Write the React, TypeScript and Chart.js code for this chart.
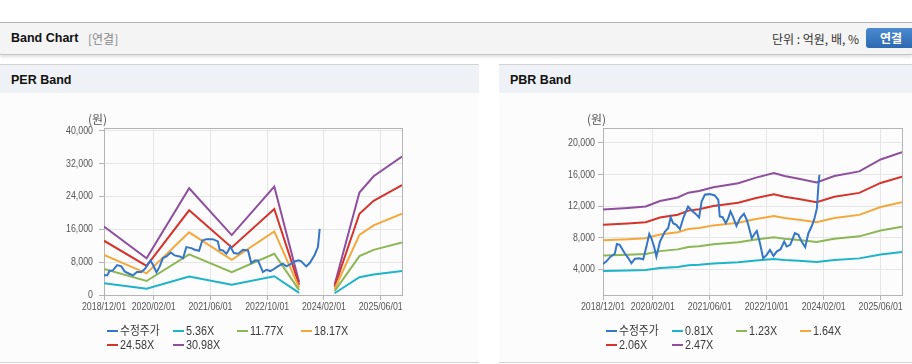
import React, { useEffect, useRef } from 'react';
import { Chart, registerables } from 'chart.js';

Chart.register(...registerables);

const TICK_FONT = "'Liberation Sans', 'Noto Sans CJK KR', sans-serif";
const UI_FONT = "'Liberation Sans', 'Noto Sans CJK KR', sans-serif";
const KR_FONT = "'Noto Sans CJK KR', sans-serif";

// x axis: months since 2018/12
const X_MAX = 84;
const X_TICK_POS = [0, 14, 30, 46, 62, 78];
const X_TICK_LABELS = ['2018/12/01', '2020/02/01', '2021/06/01', '2022/10/01', '2024/02/01', '2025/06/01'];

const COLORS = ['#3576C6', '#1DB3C9', '#8DB654', '#F4A83C', '#D5342C', '#8E4F9E'];

// ---------- PER band ----------
const PER_LABELS = ['수정주가', '5.36X', '11.77X', '18.17X', '24.58X', '30.98X'];
const PER_PRICE_X = [0, 0.9, 1.6, 2.5, 3.7, 4.9, 5.8, 7.1, 8.2, 9.3, 10.5, 11.5, 13.1, 13.8, 14.8, 15.7, 16.6, 17.6, 18.8, 19.9, 21.3, 22.3, 23.2, 24.6, 25.6, 26.8, 27.7, 28.9, 30.7, 32.1, 32.6, 33.5, 34.5, 34.9, 35.6, 36.6, 37.8, 39.2, 40.6, 41.5, 42.5, 43.4, 44.8, 45.8, 46.9, 47.6, 49.0, 50.4, 51.4, 52.3, 53.7, 54.9, 55.6, 57.0, 58.0, 59.4, 60.3, 60.8];
const PER_PRICE = [4780, 4780, 5910, 5990, 7290, 6960, 5750, 5180, 4780, 5590, 5590, 6320, 8420, 7370, 5510, 6960, 8990, 9390, 10360, 9640, 9390, 8990, 11660, 11420, 11010, 10770, 13280, 13600, 13600, 13040, 11010, 10850, 10040, 10610, 11820, 10200, 10040, 11010, 10850, 7770, 8420, 8420, 5590, 6150, 5830, 6150, 6960, 7610, 6960, 7370, 8180, 8420, 8180, 6960, 7770, 9800, 11660, 16100];
const PER_BAND_X = [0, 12, 24, 36, 48, 55, 60, 65, 72, 76, 84];
const PER_BAND_1 = [2881, 1549, 4497, 2525, 4567, 536, null, 429, 4315, 5001, 5832];
const PER_BAND_2 = [6326, 3402, 9875, 5544, 10028, 1177, null, 942, 9475, 10981, 12806];
const PER_BAND_3 = [9766, 5251, 15245, 8558, 15481, 1817, null, 1454, 14627, 16953, 19769];
const PER_BAND_4 = [13212, 7104, 20623, 11577, 20942, 2458, null, 1966, 19787, 22933, 26743];
const PER_BAND_5 = [16652, 8953, 25992, 14592, 26395, 3098, null, 2478, 24939, 28904, 33706];
const PER_Y_TICKS = [0, 8000, 16000, 24000, 32000, 40000];
const PER_Y_MIN = 0;
const PER_Y_MAX = 40650;

// ---------- PBR band ----------
const PBR_LABELS = ['수정주가', '0.81X', '1.23X', '1.64X', '2.06X', '2.47X'];
const PBR_PRICE_X = [0, 0.9, 2.1, 3.3, 3.9, 4.7, 6.1, 7.0, 8.0, 8.9, 10.1, 11.3, 12.2, 13.0, 13.6, 14.4, 15.0, 16.0, 17.4, 18.3, 19.0, 19.7, 20.6, 21.6, 22.7, 23.9, 24.9, 25.8, 27.0, 27.7, 28.6, 30.0, 31.4, 32.4, 32.8, 33.6, 34.5, 35.2, 35.8, 36.4, 37.5, 38.5, 39.6, 40.4, 40.8, 41.8, 42.7, 43.2, 44.1, 45.0, 46.0, 46.9, 47.9, 48.8, 49.9, 50.9, 51.6, 52.6, 53.9, 54.9, 55.8, 56.8, 57.7, 58.6, 59.3, 60.1, 60.5, 60.8];
const PBR_PRICE = [4670, 4970, 5600, 5940, 7200, 7090, 6030, 5480, 4760, 5310, 5390, 5270, 6870, 8480, 7930, 6790, 5600, 7500, 8780, 9200, 10600, 9840, 9630, 9080, 10680, 11950, 11450, 11110, 10560, 12590, 13440, 13520, 13350, 12800, 10680, 10600, 9840, 10480, 11320, 10770, 9500, 10480, 11030, 10260, 9630, 7930, 8570, 8860, 7300, 5390, 5820, 6450, 5690, 6240, 6540, 7510, 6880, 7090, 8570, 8360, 7510, 6790, 8570, 9420, 10260, 11740, 14490, 15980];
const PBR_BAND_X = [0, 7, 12, 16, 21, 24, 27, 31, 38, 43, 48, 51, 55, 60, 65, 72, 78, 84];
const PBR_BAND_1 = [3790, 3860, 3920, 4150, 4290, 4500, 4560, 4720, 4880, 5120, 5310, 5180, 5070, 4920, 5180, 5380, 5870, 6180];
const PBR_BAND_2 = [5760, 5850, 5950, 6300, 6520, 6830, 6920, 7170, 7420, 7770, 8070, 7870, 7700, 7470, 7870, 8170, 8920, 9380];
const PBR_BAND_3 = [7680, 7810, 7940, 8400, 8690, 9100, 9230, 9560, 9890, 10360, 10760, 10500, 10270, 9950, 10500, 10890, 11890, 12510];
const PBR_BAND_4 = [9640, 9810, 9970, 10550, 10920, 11430, 11600, 12010, 12420, 13020, 13510, 13180, 12900, 12500, 13180, 13680, 14940, 15720];
const PBR_BAND_5 = [11560, 11760, 11950, 12650, 13090, 13710, 13910, 14400, 14890, 15610, 16200, 15810, 15460, 14990, 15810, 16400, 17910, 18850];
const PBR_Y_TICKS = [4000, 8000, 12000, 16000, 20000];
const PBR_Y_MIN = 740;
const PBR_Y_MAX = 21900;

type Series = { xs: number[]; ys: (number | null)[] };

const framePlugin = {
  id: 'frame',
  beforeDatasetsDraw(chart: any) {
    const { ctx, chartArea } = chart;
    ctx.save();
    ctx.strokeStyle = '#b4b4b4';
    ctx.lineWidth = 1;
    ctx.strokeRect(Math.round(chartArea.left) + 0.5, Math.round(chartArea.top) + 0.5,
      Math.round(chartArea.right - chartArea.left), Math.round(chartArea.bottom - chartArea.top));
    ctx.restore();
  },
};

// Draws the axis tick labels in a condensed face (horizontally compressed text).
function makeLabelPlugin(yGap: number) {
  return {
    id: 'condensedLabels',
    afterDraw(chart: any) {
      const { ctx } = chart;
      const xs = chart.scales.x;
      const ys = chart.scales.y;
      const SX = 0.8;
      ctx.save();
      ctx.fillStyle = '#555';
      ctx.font = `11px ${TICK_FONT}`;
      ctx.textBaseline = 'middle';
      ctx.textAlign = 'center';
      xs.ticks.forEach((t: any, i: number) => {
        const px = xs.getPixelForValue(t.value);
        ctx.save();
        ctx.translate(px, xs.top + 12);
        ctx.scale(SX, 1);
        ctx.fillText(X_TICK_LABELS[i], 0, 0);
        ctx.restore();
      });
      ctx.textAlign = 'right';
      ys.ticks.forEach((t: any) => {
        const py = ys.getPixelForValue(t.value);
        ctx.save();
        ctx.translate(ys.right - yGap, py);
        ctx.scale(SX, 1);
        ctx.fillText(Number(t.value).toLocaleString('en-US'), 0, 0);
        ctx.restore();
      });
      ctx.restore();
    },
  };
}

function BandChart(props: {
  width: number; height: number; padRight: number; yGap: number;
  labels: string[]; series: Series[];
  yTicks: number[]; yMin: number; yMax: number;
}) {
  const ref = useRef<HTMLCanvasElement>(null);
  useEffect(() => {
    const datasets = props.series.map((s, i) => ({
      label: props.labels[i],
      data: s.xs.map((x, j) => ({ x, y: s.ys[j] })),
      borderColor: COLORS[i],
      backgroundColor: COLORS[i],
      borderWidth: 2,
      pointRadius: 0,
      fill: false,
      spanGaps: false,
      tension: 0,
    }));
    const chart = new Chart(ref.current as HTMLCanvasElement, {
      type: 'line',
      data: { datasets },
      plugins: [framePlugin, makeLabelPlugin(props.yGap)],
      options: {
        animation: false,
        responsive: false,
        devicePixelRatio: 1,
        layout: { padding: { left: 50, right: props.padRight, top: 35, bottom: 47 } },
        plugins: { legend: { display: false }, tooltip: { enabled: false } },
        scales: {
          x: {
            type: 'linear',
            min: 0,
            max: X_MAX,
            afterBuildTicks: (s: any) => { s.ticks = X_TICK_POS.map((v) => ({ value: v })); },
            afterFit: (s: any) => { s.height = 20; s.paddingLeft = 0; s.paddingRight = 0; },
            ticks: { display: false },
            grid: { color: '#e6e6e6', tickColor: '#b4b4b4', tickLength: 5 },
            border: { color: '#b4b4b4' },
          },
          y: {
            type: 'linear',
            min: props.yMin,
            max: props.yMax,
            afterBuildTicks: (s: any) => { s.ticks = props.yTicks.map((v) => ({ value: v })); },
            afterFit: (s: any) => { s.width = 54; },
            ticks: { display: false },
            grid: { color: '#e6e6e6', tickColor: '#b4b4b4', tickLength: 5 },
            border: { color: '#b4b4b4' },
          },
        },
      } as any,
    });
    return () => chart.destroy();
  }, []);
  return <canvas ref={ref} width={props.width} height={props.height} style={{ width: props.width, height: props.height, display: 'block' }} />;
}

function Legend(props: { labels: string[]; left: number; top: number }) {
  const cols = [0, 66, 130, 194];
  return (
    <div style={{ position: 'absolute', left: props.left, top: props.top }}>
      {props.labels.map((lab, i) => (
        <div key={i} style={{
          position: 'absolute', left: cols[i % 4], top: Math.floor(i / 4) * 13.5,
          whiteSpace: 'nowrap', fontFamily: UI_FONT, fontSize: 12, color: '#3a3a3a', lineHeight: '14px',
          display: 'flex', alignItems: 'center',
        }}>
          <span style={{ display: 'inline-block', width: 11, height: 2, background: COLORS[i], marginRight: 2 }} />
          <span style={{ display: 'inline-block', transform: 'scaleX(0.9)', transformOrigin: 'left center' }}>{lab}</span>
        </div>
      ))}
    </div>
  );
}

function Panel(props: {
  left: number; width: number; title: string; padRight: number; yGap: number;
  labels: string[]; series: Series[]; yTicks: number[]; yMin: number; yMax: number;
}) {
  return (
    <div style={{ position: 'absolute', left: props.left, top: 64, width: props.width, height: 299, background: '#fcfcfc', borderTop: '1px solid #d4d4d4', borderBottom: '1px solid #d4d4d4', boxSizing: 'border-box' }}>
      <div style={{ height: 28, background: '#eef1f6', position: 'relative' }}>
        <span style={{ position: 'absolute', left: 11, top: 8, fontFamily: UI_FONT, fontWeight: 'bold', fontSize: 12.5, color: '#111' }}>{props.title}</span>
      </div>
      <div style={{ position: 'absolute', left: 0, top: 28 }}>
        <BandChart width={props.width} height={269} padRight={props.padRight} yGap={props.yGap} labels={props.labels}
          series={props.series} yTicks={props.yTicks} yMin={props.yMin} yMax={props.yMax} />
      </div>
      <span style={{ position: 'absolute', left: 88, top: 45, fontFamily: KR_FONT, fontSize: 12, color: '#555' }}>(원)</span>
      <Legend labels={props.labels} left={107} top={259} />
    </div>
  );
}

export default function App() {
  const perSeries: Series[] = [
    { xs: PER_PRICE_X, ys: PER_PRICE },
    { xs: PER_BAND_X, ys: PER_BAND_1 },
    { xs: PER_BAND_X, ys: PER_BAND_2 },
    { xs: PER_BAND_X, ys: PER_BAND_3 },
    { xs: PER_BAND_X, ys: PER_BAND_4 },
    { xs: PER_BAND_X, ys: PER_BAND_5 },
  ];
  const pbrSeries: Series[] = [
    { xs: PBR_PRICE_X, ys: PBR_PRICE },
    { xs: PBR_BAND_X, ys: PBR_BAND_1 },
    { xs: PBR_BAND_X, ys: PBR_BAND_2 },
    { xs: PBR_BAND_X, ys: PBR_BAND_3 },
    { xs: PBR_BAND_X, ys: PBR_BAND_4 },
    { xs: PBR_BAND_X, ys: PBR_BAND_5 },
  ];
  return (
    <div style={{ position: 'fixed', left: 0, top: 0, width: 912, height: 364, background: '#fff', overflow: 'hidden' }}>
      <div style={{ position: 'absolute', left: 0, top: 22, width: 912, height: 31, background: '#f4f4f4', borderTop: '1px solid #b5b5b5', borderBottom: '1px solid #c4c4c4', boxShadow: '0 2px 3px rgba(0,0,0,0.12)' }}>
        <span style={{ position: 'absolute', left: 11, top: 8, fontFamily: UI_FONT, fontWeight: 'bold', fontSize: 12.5, color: '#111' }}>Band Chart</span>
        <span style={{ position: 'absolute', left: 88, top: 7, fontFamily: KR_FONT, fontSize: 12, color: '#888' }}>[연결]</span>
        <span style={{ position: 'absolute', right: 53, top: 7, fontFamily: KR_FONT, fontSize: 12, color: '#333' }}>단위 : 억원, 배, %</span>
        <div style={{ position: 'absolute', left: 866, top: 5, width: 50, height: 20, borderRadius: 3, background: 'linear-gradient(#4b8bd2, #2c69b0)', color: '#fff', fontFamily: KR_FONT, fontWeight: 'bold', fontSize: 12, lineHeight: '20px', paddingLeft: 14, boxSizing: 'border-box' }}>연결</div>
      </div>
      <Panel left={0} width={479} title="PER Band" padRight={77} yGap={11} labels={PER_LABELS} series={perSeries}
        yTicks={PER_Y_TICKS} yMin={PER_Y_MIN} yMax={PER_Y_MAX} />
      <Panel left={499} width={413} title="PBR Band" padRight={10} yGap={8} labels={PBR_LABELS} series={pbrSeries}
        yTicks={PBR_Y_TICKS} yMin={PBR_Y_MIN} yMax={PBR_Y_MAX} />
    </div>
  );
}
